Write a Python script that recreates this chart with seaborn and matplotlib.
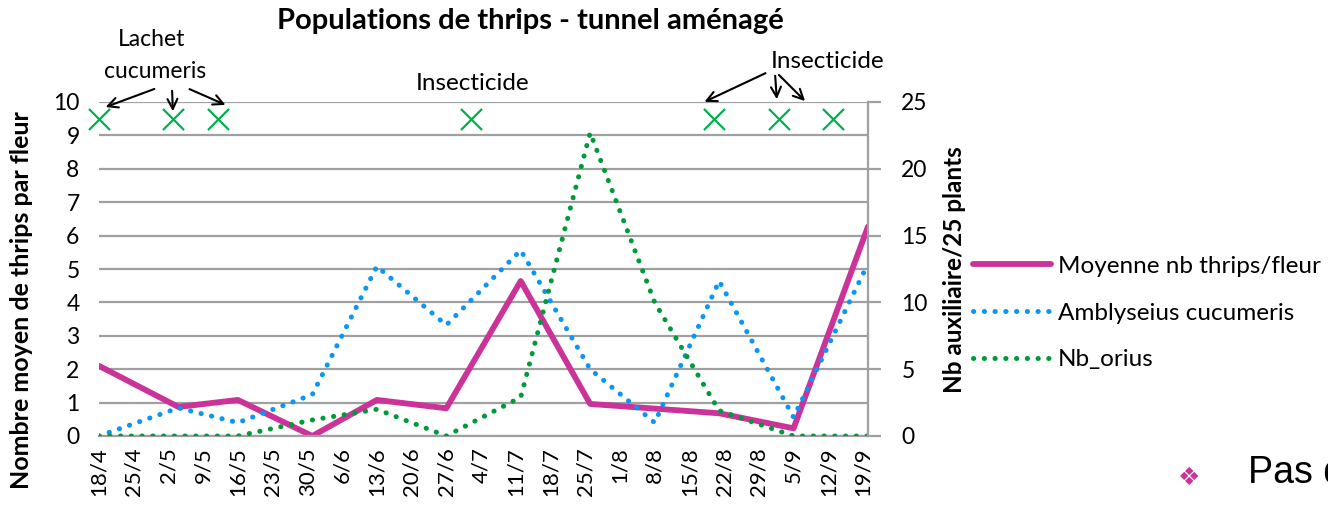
import pandas as pd
import matplotlib
matplotlib.use("Agg")
import matplotlib.pyplot as plt
from matplotlib.ticker import MultipleLocator
import seaborn as sns

# sampling dates and counts
dates = ["2013-04-18", "2013-05-04", "2013-05-16", "2013-05-31", "2013-06-13", "2013-06-27",
         "2013-07-12", "2013-07-26", "2013-08-08", "2013-08-21", "2013-09-05", "2013-09-20"]
thrips = [2.1, 0.87, 1.08, 0.0, 1.08, 0.83, 4.64, 0.96, 0.82, 0.68, 0.23, 6.27]
cucumeris = [0.0, 2.1, 1.0, 3.1, 12.7, 8.3, 13.9, 5.0, 1.0, 11.6, 1.4, 12.9]
orius = [0.0, 0.0, 0.0, 1.2, 2.0, 0.0, 2.9, 22.7, 10.0, 1.9, 0.0, 0.0]

# treatment / release days (green crosses)
event_dates = ["2013-04-18", "2013-05-03", "2013-05-12", "2013-07-02",
               "2013-08-20", "2013-09-02", "2013-09-13"]
event_level = [9.5, 9.5, 9.5, 9.5, 9.5, 9.5, 9.5]

labels = ["Moyenne nb thrips/fleur", "Amblyseius cucumeris", "Nb_orius"]

df = pd.DataFrame({"date": pd.to_datetime(dates), "thrips": thrips,
                   "cucumeris": cucumeris, "orius": orius})
ev = pd.DataFrame({"date": pd.to_datetime(event_dates), "y": event_level})
ticks = pd.date_range(df["date"].iloc[0], periods=23, freq="7D")

sns.set_style("white")
plt.rcParams["font.family"] = ["Lato", "DejaVu Sans"]
for k in ("text.color", "axes.labelcolor", "xtick.color", "ytick.color"):
    plt.rcParams[k] = "black"

W, H = 1328, 505
fig = plt.figure(figsize=(W / 100, H / 100), dpi=100)
ax = fig.add_axes([99 / W, 1 - 436 / H, (868 - 99) / W, (436 - 102) / H])

def fp(x, y):
    return (x / W, 1 - y / H)

pink, blue, green = "#CC3399", "#0A96F5", "#009A3A"
grid_c = "#A0A0A0"

sns.lineplot(data=df, x="date", y="thrips", ax=ax, color=pink, lw=4.2,
             solid_capstyle="round", legend=False)
sns.scatterplot(data=ev, x="date", y="y", ax=ax, marker="x", s=230,
                color="#00B050", linewidth=1.6, legend=False, clip_on=False)

ax2 = ax.twinx()
sns.lineplot(data=df, x="date", y="cucumeris", ax=ax2, color=blue, lw=3.6,
             linestyle=(0, (0.05, 2.1)), dash_capstyle="round", legend=False)
sns.lineplot(data=df, x="date", y="orius", ax=ax2, color=green, lw=3.6,
             linestyle=(0, (0.05, 2.1)), dash_capstyle="round", legend=False)

ax.set_ylim(0, 10)
ax2.set_ylim(0, 25)
ax.set_xlim(df["date"].iloc[0], df["date"].iloc[-1])
ax.yaxis.set_major_locator(MultipleLocator(1))
ax2.yaxis.set_major_locator(MultipleLocator(5))
ax.set_xticks(ticks)
ax.set_xticklabels([f"{d.day}/{d.month}" for d in ticks], rotation=90, fontsize=16)

ax.grid(axis="y", color=grid_c, lw=1.6)
ax.grid(axis="x", visible=False)
ax.set_axisbelow(True)
for a in (ax, ax2):
    for s in ("left", "top"):
        a.spines[s].set_visible(False)
ax.spines["right"].set_visible(False)
ax.spines["bottom"].set_color(grid_c)
ax.spines["bottom"].set_linewidth(1.6)
ax2.spines["bottom"].set_visible(False)
ax2.spines["right"].set_color(grid_c)
ax2.spines["right"].set_linewidth(1.6)

ax.tick_params(axis="y", length=0, labelsize=16.5, pad=14)
ax.tick_params(axis="x", length=0, pad=8)
ax2.tick_params(axis="y", length=9, width=1.6, color=grid_c, labelcolor="black",
                labelsize=16.5, pad=15)

ax.set_xlabel("")
ax.set_ylabel("")
ax2.set_ylabel("")

fig.text(*fp(22, 300), "Nombre moyen de thrips par fleur", rotation=90, fontsize=18,
         fontweight="bold", ha="center", va="center")
fig.text(*fp(955, 270), "Nb auxiliaire/25 plants", rotation=90, fontsize=17.5,
         fontweight="bold", ha="center", va="center")
fig.text(*fp(530, 21), "Populations de thrips - tunnel aménagé", fontsize=21,
         fontweight="bold", ha="center", va="center")

# annotations
fig.text(*fp(152, 40), "Lachet", fontsize=16.5, ha="center", va="center")
fig.text(*fp(155, 72), "cucumeris", fontsize=16.5, ha="center", va="center")
fig.text(*fp(473, 83), "Insecticide", fontsize=17.5, ha="center", va="center")
fig.text(*fp(828, 62), "Insecticide", fontsize=17.5, ha="center", va="center")
arrows = [((157, 88), (103, 108)), ((172, 88), (173, 114)), ((187, 88), (228, 106)),
          ((768, 72), (702, 103)), ((775, 73), (777, 102)), ((777, 73), (807, 103))]
for start, end in arrows:
    fig.add_artist(matplotlib.patches.FancyArrowPatch(
        fp(*start), fp(*end), transform=fig.transFigure, arrowstyle="->",
        mutation_scale=18, lw=1.5, color="black"))

handles = [ax.lines[0], ax2.lines[0], ax2.lines[1]]
fig.legend(handles, labels, loc="center left", bbox_to_anchor=fp(973, 313),
           frameon=False, fontsize=17.5, handlelength=3.2, handletextpad=0.3,
           labelspacing=1.05, borderaxespad=0, borderpad=0)

fig.text(*fp(1189, 478), "❖", fontsize=18, color=pink, ha="center", va="center",
         family="DejaVu Sans")
fig.text(*fp(1248, 473), "Pas d", fontsize=27, ha="left", va="center",
         family="Liberation Sans")

fig.savefig("out.png", dpi=100)
